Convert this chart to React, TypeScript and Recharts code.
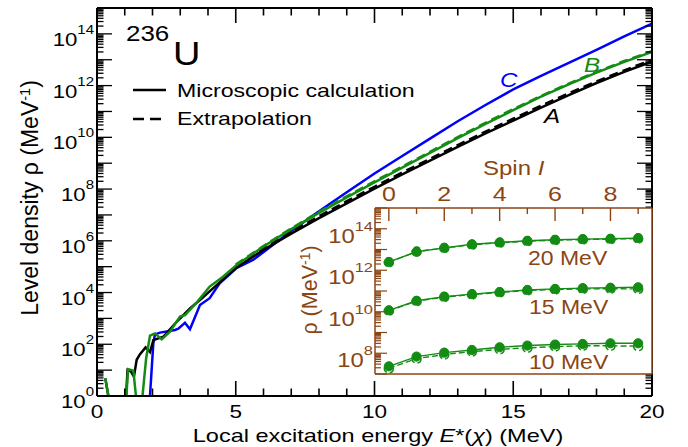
import React from "react";
import { LineChart, Line, XAxis, YAxis, CartesianGrid } from "recharts";

// main panel: local excitation energy (MeV) vs log10 of level density
const E_TICKS = [0, 1, 2, 3, 4, 5, 6, 7, 8, 9, 10, 11, 12, 13, 14, 15, 16, 17, 18, 19, 20];
const E_LABELS = [0, 5, 10, 15, 20];
const RHO_DECADES = [0, 1, 2, 3, 4, 5, 6, 7, 8, 9, 10, 11, 12, 13, 14];
const RHO_LABELS = [0, 2, 4, 6, 8, 10, 12, 14];

// [E, log10 rho]; -1 means rho = 0 (drops below the axis)
const curveA: [number, number][] = [
  [0.3, 0.68], [0.57, -1], [1.0, -1], [1.1, 1.0], [1.22, 0.95], [1.33, 0.75], [1.43, 1.4],
  [1.55, 1.62], [1.75, 1.88], [1.91, 1.7], [2.03, 2.16], [2.39, 2.29], [2.87, 2.87],
  [3.35, 3.39], [3.71, 3.71], [4.18, 4.16], [5, 4.95], [6, 5.65], [7, 6.28], [8, 6.88],
  [9, 7.45], [10, 8.02], [11, 8.57], [12, 9.1], [13, 9.63], [14, 10.15], [15, 10.65],
  [16, 11.15], [17, 11.63], [18, 12.1], [19, 12.53], [20, 12.93],
];
const curveB: [number, number][] = [
  [0.3, 0.68], [0.57, -1], [1.0, -1], [1.12, 1.04], [1.31, 0.98], [1.5, -1], [1.55, -1],
  [1.77, 1.45], [1.91, 2.33], [2.09, 2.42], [2.33, 2.19], [2.63, 2.49], [2.99, 3.07],
  [3.17, 3.13], [3.59, 3.61], [4.06, 4.23], [4.54, 4.61], [5.02, 5.06], [6, 5.78], [7, 6.45],
  [8, 7.08], [9, 7.68], [10, 8.26], [11, 8.83], [12, 9.4], [13, 9.97], [14, 10.52],
  [15, 11.05], [16, 11.57], [17, 12.05], [18, 12.5], [19, 12.92], [20, 13.3],
];
const curveC: [number, number][] = [
  [1.85, -1], [2.03, 2.04], [2.09, 2.38], [2.27, 2.45], [2.81, 2.55], [2.93, 2.6], [3.17, 2.83],
  [3.35, 2.58], [3.71, 3.52], [4.06, 3.78], [4.42, 4.36], [5.02, 4.94], [5.62, 5.26],
  [6.1, 5.64], [7, 6.38], [8, 7.14], [9, 7.88], [10, 8.6], [11, 9.28], [12, 9.95], [13, 10.62],
  [14, 11.25], [15, 11.85], [16, 12.38], [17, 12.88], [18, 13.38], [19, 13.9], [20, 14.4],
];
const extrapA: [number, number][] = [
  [5, 5.0], [6, 5.72], [7, 6.35], [8, 6.95], [9, 7.53], [10, 8.09], [11, 8.64], [12, 9.17],
  [13, 9.7], [14, 10.22], [15, 10.72], [16, 11.22], [17, 11.7], [18, 12.16], [19, 12.59], [20, 13.0],
];
const extrapB: [number, number][] = [
  [5, 5.08], [6, 5.8], [7, 6.48], [8, 7.12], [9, 7.72], [10, 8.3], [11, 8.87], [12, 9.44],
  [13, 10.01], [14, 10.56], [15, 11.09], [16, 11.6], [17, 12.08], [18, 12.53], [19, 12.95], [20, 13.33],
];

// inset: spin I vs log10 rho at three energies (x = extrapolation)
const SPINS = [0, 1, 2, 3, 4, 5, 6, 7, 8, 9];
const SPIN_LABELS = [0, 2, 4, 6, 8];
const INSET_DECADES = [7, 8, 9, 10, 11, 12, 13, 14];
const INSET_LABELS = [8, 10, 12, 14];
const rho20 = [12.4, 12.89, 13.08, 13.25, 13.34, 13.42, 13.47, 13.5, 13.52, 13.55];
const rho20x = [12.38, 12.9, 13.07, 13.23, 13.32, 13.4, 13.45, 13.48, 13.5, 13.53];
const rho15 = [10.07, 10.53, 10.73, 10.85, 10.95, 11.05, 11.1, 11.14, 11.16, 11.18];
const rho15x = [10.05, 10.51, 10.71, 10.83, 10.93, 11.03, 11.07, 11.1, 11.11, 11.1];
const rho10 = [7.37, 7.84, 8.03, 8.16, 8.29, 8.37, 8.42, 8.45, 8.48, 8.48];
const rho10x = [7.27, 7.74, 7.94, 8.08, 8.19, 8.26, 8.32, 8.36, 8.36, 8.34];

const FONT = "'Liberation Sans', Arial, Helvetica, sans-serif";
const SX = 1.25;
const GREEN = "#148c14";
const BLUE = "#0000ff";
const BROWN = "#8b4513";

const toPts = (arr: [number, number][]) => arr.map(([e, v]) => ({ e, v }));

const withMinors = (decades: number[], top: number) => {
  const out: number[] = [];
  decades.forEach((n) => {
    for (let k = 1; k <= 9; k++) out.push(n + Math.log10(k));
  });
  out.push(top);
  return out;
};
const RHO_TICKS = withMinors(RHO_DECADES, 15);
const INSET_TICKS = withMinors(INSET_DECADES, 15);

const insetRows = SPINS.map((s, i) => ({
  spin: s,
  e20: rho20[i], e20x: rho20x[i],
  e15: rho15[i], e15x: rho15x[i],
  e10: rho10[i], e10x: rho10x[i],
}));

// text slightly stretched sideways, like the original figure
function T({ x, y, size, anchor = "start", fill = "#000", italic = false, sx = SX, children }: any) {
  return (
    <g transform={`translate(${x},${y}) scale(${sx},1)`}>
      <text x={0} y={0} fontSize={size} textAnchor={anchor} fill={fill} fontFamily={FONT}
        fontStyle={italic ? "italic" : "normal"}>
        {children}
      </text>
    </g>
  );
}

const isInt = (v: number) => Math.abs(v - Math.round(v)) < 1e-9;

function BottomTick({ x, y, payload }: any) {
  const v = payload.value;
  const major = v % 5 === 0;
  return (
    <g>
      <line x1={x} y1={y} x2={x} y2={y - (major ? 15 : 7.5)} stroke="#000" strokeWidth={1.6} />
      {E_LABELS.includes(v) && <T x={x} y={y + 22} size={18.5} sx={1.22} anchor="middle">{v}</T>}
    </g>
  );
}
function TopTick({ x, y, payload }: any) {
  const major = payload.value % 5 === 0;
  return <line x1={x} y1={y} x2={x} y2={y + (major ? 15 : 7.5)} stroke="#000" strokeWidth={1.6} />;
}
function LeftTick({ x, y, payload }: any) {
  const v = payload.value;
  const major = isInt(v);
  const n = Math.round(v);
  return (
    <g>
      <line x1={x} y1={y} x2={x + (major ? 15 : 6.5)} y2={y} stroke="#000" strokeWidth={1.3} />
      {major && RHO_LABELS.includes(n) && (
        <T x={x - 3} y={y + 12} size={18.5} sx={1.2} anchor="end">
          10<tspan dy={-12} fontSize={12.5}>{n}</tspan>
        </T>
      )}
    </g>
  );
}
function RightTick({ x, y, payload }: any) {
  const major = isInt(payload.value);
  return <line x1={x} y1={y} x2={x - (major ? 15 : 6.5)} y2={y} stroke="#000" strokeWidth={1.3} />;
}
function InsetTopTick({ x, y, payload }: any) {
  const v = payload.value;
  const major = v % 2 === 0;
  return (
    <g>
      <line x1={x} y1={y} x2={x} y2={y + (major ? 13 : 6)} stroke={BROWN} strokeWidth={1.4} />
      {SPIN_LABELS.includes(v) && <T x={x} y={y - 7} size={20} anchor="middle" fill={BROWN}>{v}</T>}
    </g>
  );
}
function InsetLeftTick({ x, y, payload }: any) {
  const v = payload.value;
  const major = isInt(v);
  const n = Math.round(v);
  return (
    <g>
      <line x1={x} y1={y} x2={x + (major ? 12 : 6)} y2={y} stroke={BROWN} strokeWidth={1.2} />
      {major && INSET_LABELS.includes(n) && (
        <T x={x - 2} y={y + 14} size={19.5} sx={1.22} anchor="end" fill={BROWN}>
          10<tspan dy={-12} fontSize={13.5}>{n}</tspan>
        </T>
      )}
    </g>
  );
}

const blackAxis = { stroke: "#000", strokeWidth: 2 };
const brownAxis = { stroke: BROWN, strokeWidth: 1.5 };

function MainPanel() {
  const line = (data: [number, number][], color: string, dashed = false) => (
    <Line data={toPts(data)} dataKey="v" type="linear" stroke={color} strokeWidth={2.5}
      strokeDasharray={dashed ? "9 5" : undefined} dot={false} isAnimationActive={false} />
  );
  return (
    <LineChart width={688} height={447} margin={{ top: 0, right: 0, bottom: 0, left: 0 }}>
      <XAxis dataKey="e" type="number" domain={[0, 20]} ticks={E_TICKS} interval={0} height={51}
        tickSize={0} tickMargin={0} axisLine={blackAxis} tick={BottomTick} allowDataOverflow />
      <XAxis xAxisId="t" orientation="top" dataKey="e" type="number" domain={[0, 20]} ticks={E_TICKS}
        interval={0} height={8} tickSize={0} tickMargin={0} axisLine={blackAxis} tick={TopTick} allowDataOverflow />
      <YAxis type="number" domain={[0, 15]} ticks={RHO_TICKS} interval={0} width={97}
        tickSize={0} tickMargin={0} axisLine={blackAxis} tick={LeftTick} allowDataOverflow />
      <YAxis yAxisId="r" orientation="right" type="number" domain={[0, 15]} ticks={RHO_TICKS} interval={0}
        width={36} tickSize={0} tickMargin={0} axisLine={blackAxis} tick={RightTick} allowDataOverflow />
      {line(curveC, BLUE)}
      {line(curveA, "#000")}
      {line(extrapA, "#000", true)}
      {line(curveB, GREEN)}
      {line(extrapB, GREEN, true)}
    </LineChart>
  );
}

function InsetPanel() {
  const pair = (solid: string, extrap: string) => [
    <Line key={extrap} dataKey={extrap} type="linear" stroke={GREEN} strokeWidth={1.4} strokeDasharray="6 3"
      dot={{ r: 4.5, fill: "#fff", stroke: GREEN, strokeWidth: 1.5 }} isAnimationActive={false} />,
    <Line key={solid} dataKey={solid} type="linear" stroke={GREEN} strokeWidth={1.4}
      dot={{ r: 4.6, fill: GREEN, stroke: GREEN, strokeWidth: 1 }} isAnimationActive={false} />,
  ];
  return (
    <LineChart width={360} height={230} data={insetRows} margin={{ top: 0, right: 0, bottom: 0, left: 0 }}>
      <CartesianGrid fill="#fff" horizontal={false} vertical={false} />
      <XAxis dataKey="spin" type="number" orientation="top" domain={[-0.5, 9.5]} ticks={SPINS} interval={0}
        height={58} tickSize={0} tickMargin={0} axisLine={brownAxis} tick={InsetTopTick} allowDataOverflow />
      <XAxis xAxisId="b" dataKey="spin" type="number" domain={[-0.5, 9.5]} height={6}
        tick={false} tickLine={false} axisLine={brownAxis} allowDataOverflow />
      <YAxis type="number" domain={[7, 15]} ticks={INSET_TICKS} interval={0} width={75}
        tickSize={0} tickMargin={0} axisLine={brownAxis} tick={InsetLeftTick} allowDataOverflow />
      <YAxis yAxisId="r" orientation="right" type="number" domain={[7, 15]} width={8}
        tick={false} tickLine={false} axisLine={brownAxis} allowDataOverflow />
      {pair("e10", "e10x")}
      {pair("e15", "e15x")}
      {pair("e20", "e20x")}
    </LineChart>
  );
}

function Overlay() {
  return (
    <svg width={688} height={447} style={{ position: "absolute", left: 0, top: 0, pointerEvents: "none" }}>
      {/* nucleus */}
      <T x={126} y={41} size={22} sx={1.18}>236</T>
      <T x={173} y={65} size={33} sx={1.15}>U</T>
      {/* legend */}
      <line x1={133} y1={90} x2={166} y2={90} stroke="#000" strokeWidth={2.5} />
      <T x={177} y={97} size={18.5}>Microscopic calculation</T>
      <line x1={133} y1={119} x2={166} y2={119} stroke="#000" strokeWidth={2.5} strokeDasharray="11 6" />
      <T x={177} y={125} size={18.5}>Extrapolation</T>
      {/* curve labels */}
      <T x={500} y={87} size={21} sx={1.15} fill={BLUE} italic>C</T>
      <T x={584} y={72} size={21} sx={1.15} fill={GREEN} italic>B</T>
      <T x={544} y={123} size={21} sx={1.15} italic>A</T>
      {/* axis titles */}
      <T x={378} y={442} size={18.8} anchor="middle">
        Local excitation energy <tspan fontStyle="italic">E</tspan>*(<tspan fontStyle="italic">χ</tspan>) (MeV)
      </T>
      <text transform="translate(38,198) rotate(-90)" textAnchor="middle" fontSize={23} fontFamily={FONT}>
        Level density ρ (MeV<tspan dy={-8} fontSize={14.5}>-1</tspan><tspan dy={8}>)</tspan>
      </text>
      {/* inset texts */}
      <T x={483} y={175} size={20} sx={1.2} fill={BROWN}>
        Spin <tspan fontStyle="italic">I</tspan>
      </T>
      <T x={528} y={265} size={19.5} sx={1.18} fill={BROWN}>20 MeV</T>
      <T x={529} y={314} size={19.5} sx={1.18} fill={BROWN}>15 MeV</T>
      <T x={529} y={369} size={19.5} sx={1.18} fill={BROWN}>10 MeV</T>
      <text transform="translate(317,290) rotate(-90)" textAnchor="middle" fontSize={21.5} fontFamily={FONT} fill={BROWN}>
        ρ (MeV<tspan dy={-7} fontSize={14}>-1</tspan><tspan dy={7}>)</tspan>
      </text>
    </svg>
  );
}

export default function App() {
  return (
    <div style={{ position: "absolute", left: 0, top: 0, width: 688, height: 447, background: "#fff" }}>
      <div style={{ position: "absolute", left: 0, top: 0 }}>
        <MainPanel />
      </div>
      <div style={{ position: "absolute", left: 300, top: 150 }}>
        <InsetPanel />
      </div>
      <Overlay />
    </div>
  );
}
